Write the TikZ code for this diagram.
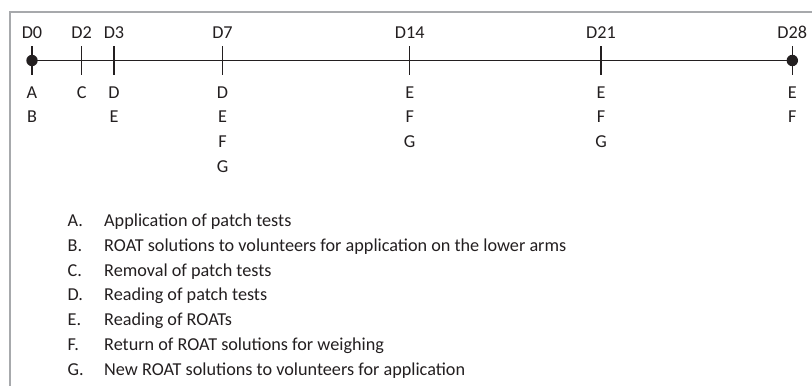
\documentclass[tikz,border=0pt]{standalone}
\usepackage{fontspec}
\setmainfont{Carlito}
\usetikzlibrary{positioning}
\definecolor{inkgray}{HTML}{231F20}
\definecolor{framegray}{HTML}{A7A9AC}
\tikzset{
  daylabel/.style={inner sep=0pt, text height=11.7pt, text depth=0pt, text=inkgray},
  evt/.style={inner sep=0pt, text height=11.7pt, text depth=0pt, text=inkgray},
  item/.style={inner sep=0pt, text height=11.7pt, text depth=0pt, text=inkgray},
  daytick/.style={line width=1.3pt, draw=inkgray},
  axis/.style={line width=1.3pt, draw=inkgray},
  frame/.style={line width=2.5pt, draw=framegray},
}
\newcommand{\itm}[2]{\makebox[36.5pt][l]{#1}#2}
\begin{document}
\begin{tikzpicture}[x=1pt, y=-1pt, node distance=12.6pt,
                    font=\fontsize{18.2}{20}\selectfont]
  \useasboundingbox (0,0) rectangle (812,386);
  \draw[frame] (812,12) -- (10,12) -- (10,386);

  % axis points
  \coordinate (t0) at (32,60.5);
  \coordinate (t2) at (81.7,60.5);
  \coordinate (t3) at (114,60.5);
  \coordinate (t7) at (222.5,60.5);
  \coordinate (t14) at (409.7,60.5);
  \coordinate (t21) at (601,60.5);
  \coordinate (t28) at (792.3,60.5);

  \draw[axis] (t0) -- (t28);
  \foreach \t in {t0,t2,t3,t7,t14,t21,t28}
    \draw[daytick] ([yshift=14.5pt]\t) -- ([yshift=-14.5pt]\t);
  \fill[inkgray] (t0) circle (5.7pt);
  \fill[inkgray] (t28) circle (5.7pt);

  % day labels
  \node (d0)[daylabel, above=21.7pt of t0] {D0};
  \node (d2)[daylabel, above=21.7pt of t2] {D2};
  \node (d3)[daylabel, above=21.7pt of t3] {D3};
  \node (d7)[daylabel, above=21.7pt of t7] {D7};
  \node (d14)[daylabel, above=21.7pt of t14] {D14};
  \node (d21)[daylabel, above=21.7pt of t21] {D21};
  \node (d28)[daylabel, above=21.7pt of t28] {D28};

  % events per day
  \node (d0a)[evt, below=25.6pt of t0] {A};
  \node (d0b)[evt, below=of d0a] {B};
  \node (d2c)[evt, below=25.6pt of t2] {C};
  \node (d3d)[evt, below=25.6pt of t3] {D};
  \node (d3e)[evt, below=of d3d] {E};
  \node (d7d)[evt, below=25.6pt of t7] {D};
  \node (d7e)[evt, below=of d7d] {E};
  \node (d7f)[evt, below=of d7e] {F};
  \node (d7g)[evt, below=of d7f] {G};
  \node (d14e)[evt, below=25.6pt of t14] {E};
  \node (d14f)[evt, below=of d14e] {F};
  \node (d14g)[evt, below=of d14f] {G};
  \node (d21e)[evt, below=25.6pt of t21] {E};
  \node (d21f)[evt, below=of d21e] {F};
  \node (d21g)[evt, below=of d21f] {G};
  \node (d28e)[evt, below=25.6pt of t28] {E};
  \node (d28f)[evt, below=of d28e] {F};

  % legend
  \node (la)[item, anchor=west] at (67.5,221) {\itm{A.}{Application of patch tests}};
  \node (lb)[item, below=of la.south west, anchor=north west] {\itm{B.}{ROAT solutions to volunteers for application on the lower arms}};
  \node (lc)[item, below=of lb.south west, anchor=north west] {\itm{C.}{Removal of patch tests}};
  \node (ld)[item, below=of lc.south west, anchor=north west] {\itm{D.}{Reading of patch tests}};
  \node (le)[item, below=of ld.south west, anchor=north west] {\itm{E.}{Reading of ROATs}};
  \node (lf)[item, below=of le.south west, anchor=north west] {\itm{F.}{Return of ROAT solutions for weighing}};
  \node (lg)[item, below=of lf.south west, anchor=north west] {\itm{G.}{New ROAT solutions to volunteers for application}};
\end{tikzpicture}
\end{document}
